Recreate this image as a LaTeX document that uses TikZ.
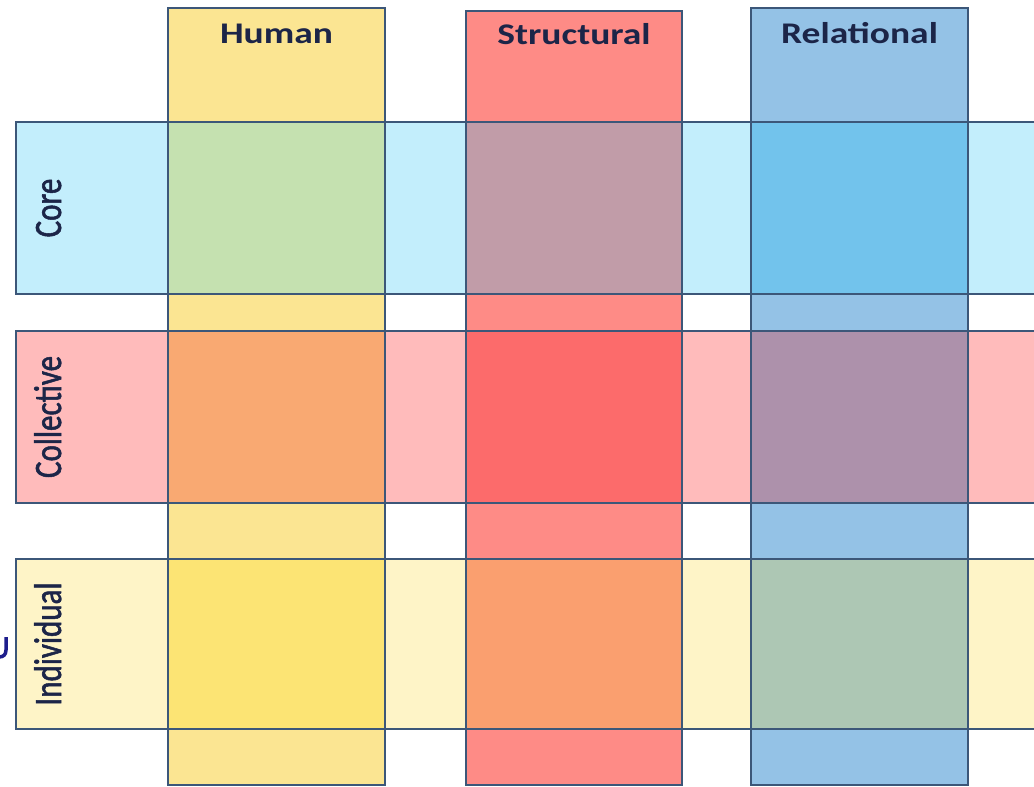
\documentclass[tikz,border=0pt]{standalone}
\usepackage{fontspec}
\setmainfont{Carlito}
\newfontfamily\rowfont[FakeBold=1.6]{Carlito}
\definecolor{bordercol}{HTML}{3C5779}
\definecolor{txtcol}{HTML}{1C2548}
\definecolor{humcol}{HTML}{FBE592}
\definecolor{strcol}{HTML}{FE8B86}
\definecolor{relcol}{HTML}{94C2E6}
\definecolor{corecol}{HTML}{C3EEFC}
\definecolor{collcol}{HTML}{FFBBBB}
\definecolor{indcol}{HTML}{FEF4C7}
\definecolor{humcore}{HTML}{C5E1B0}
\definecolor{strcore}{HTML}{C19CA8}
\definecolor{relcore}{HTML}{72C3EC}
\definecolor{humcoll}{HTML}{F9A972}
\definecolor{strcoll}{HTML}{FC6B6B}
\definecolor{relcoll}{HTML}{AD91AB}
\definecolor{humind}{HTML}{FCE474}
\definecolor{strind}{HTML}{FA9F6F}
\definecolor{relind}{HTML}{ADC7B4}
\definecolor{markcol}{HTML}{1E1E8C}
\tikzset{
  frame/.style={draw=bordercol, line width=2.8pt},
  header/.style={text=txtcol, font=\fontsize{30}{36}\selectfont\bfseries, anchor=base, inner sep=0pt, xscale=1.25},
  rowlabel/.style={text=txtcol, font=\rowfont\fontsize{31}{36}\selectfont, anchor=base, inner sep=0pt, xscale=1.25, rotate=90}
}
\begin{document}
\begin{tikzpicture}[x=1pt,y=-1pt]
\useasboundingbox (0,0) rectangle (1034,787);
\clip (0,0) rectangle (1034,787);
\fill[white] (0,0) rectangle (1034,787);
% rows
\fill[corecol] (16,122) rectangle (1050,294);
\fill[collcol] (16,331) rectangle (1050,503);
\fill[indcol] (16,559) rectangle (1050,729);
% columns
\fill[humcol] (168,8) rectangle (385,785);
\fill[strcol] (466,11) rectangle (682,785);
\fill[relcol] (751,8) rectangle (968,785);
% intersections
\fill[humcore] (168,122) rectangle (385,294);
\fill[strcore] (466,122) rectangle (682,294);
\fill[relcore] (751,122) rectangle (968,294);
\fill[humcoll] (168,331) rectangle (385,503);
\fill[strcoll] (466,331) rectangle (682,503);
\fill[relcoll] (751,331) rectangle (968,503);
\fill[humind] (168,559) rectangle (385,729);
\fill[strind] (466,559) rectangle (682,729);
\fill[relind] (751,559) rectangle (968,729);
% borders
\draw[frame] (16,122) rectangle (1050,294);
\draw[frame] (16,331) rectangle (1050,503);
\draw[frame] (16,559) rectangle (1050,729);
\draw[frame] (168,8) rectangle (385,785);
\draw[frame] (466,11) rectangle (682,785);
\draw[frame] (751,8) rectangle (968,785);
% headers
\node[header] (hhum) at (276.5,43.5) {Human};
\node[header] (hstr) at (574,44.5) {Structural};
\node[header] (hrel) at (859.5,43) {Relational};
% row labels
\node[rowlabel] (lcore) at (61,208) {Core};
\node[rowlabel] (lcoll) at (61,417) {Collective};
\node[rowlabel] (lind) at (61,644) {Individual};
% cut-off mark at left edge
\draw[markcol, line width=3.5pt] (6,637) -- (6,650) .. controls (6,655) and (3,657) .. (-1,657);
\end{tikzpicture}
\end{document}
